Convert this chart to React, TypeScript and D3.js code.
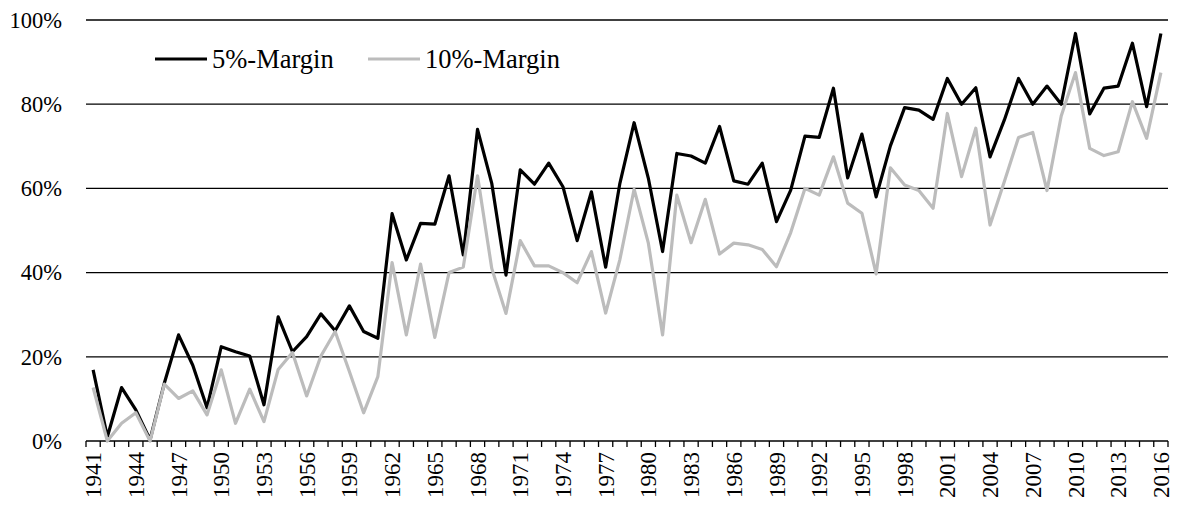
import React, { useRef, useEffect } from "react";
import { select, scaleBand, scaleLinear, line, range } from "d3";

// years on the x axis
const years = range(1941, 2017);

// share of elections decided within a 5% margin
const margin5 = [
  16.9, 1, 12.7, 7.4, 0.3, 13.7, 25.2, 18, 7.9, 22.4,
  21.2, 20.2, 8.6, 29.5, 21.2, 24.8, 30.2, 26.2, 32.1, 26,
  24.4, 54, 43, 51.7, 51.5, 63, 44.2, 74, 61.2, 39.4,
  64.4, 61, 66, 60.4, 47.6, 59.2, 41.3, 61.2, 75.6, 62.4,
  45, 68.3, 67.7, 66, 74.7, 61.8, 61, 66, 52.1, 59.6,
  72.4, 72.1, 83.8, 62.5, 72.9, 58, 70.1, 79.2, 78.6, 76.4,
  86.1, 80, 83.9, 67.5, 76.2, 86.1, 80, 84.3, 80, 96.8,
  77.7, 83.8, 84.3, 94.5, 79.4, 96.8,
];

// share of elections decided within a 10% margin
const margin10 = [
  12.7, 0, 4.2, 6.7, 0, 13.5, 10.1, 11.9, 6.2, 16.9,
  4.2, 12.3, 4.6, 17, 21, 10.7, 20.2, 26, 16.5, 6.7,
  15.3, 42.4, 25.2, 42, 24.6, 40, 41.3, 63, 41, 30.3,
  47.6, 41.6, 41.6, 40, 37.6, 45, 30.4, 43.1, 59.8, 47,
  25.2, 58.4, 47.1, 57.4, 44.4, 47, 46.6, 45.5, 41.4, 49.5,
  60, 58.4, 67.5, 56.5, 54.1, 39.7, 64.9, 60.8, 59.5, 55.3,
  77.8, 62.8, 74.3, 51.3, 61.6, 72.1, 73.3, 59.5, 77.2, 87.5,
  69.5, 67.8, 68.7, 80.6, 71.9, 87.5,
];

const yTicks = [0, 20, 40, 60, 80, 100];
const seriesNames = ["5%-Margin", "10%-Margin"];
const seriesColors = ["#000000", "#bcbcbc"];

const W = 1177;
const H = 505;
const FONT = "Liberation Serif, Times New Roman, DejaVu Serif, serif";

function App() {
  const svgRef = useRef(null);

  useEffect(() => {
    const svg = select(svgRef.current);
    svg.selectAll("*").remove();

    const left = 86;
    const right = 1168;
    const top = 20;
    const bottom = 441;

    const xScale = scaleBand().domain(years).range([left, right]);
    const yScale = scaleLinear().domain([0, 100]).range([bottom, top]);
    const cx = (y) => xScale(y) + xScale.bandwidth() / 2;

    // horizontal grid lines
    svg
      .selectAll(".grid")
      .data(yTicks)
      .join("line")
      .attr("class", "grid")
      .attr("x1", left)
      .attr("x2", right)
      .attr("y1", (d) => yScale(d))
      .attr("y2", (d) => yScale(d))
      .attr("stroke", "#000")
      .attr("stroke-width", 1.3);

    svg
      .selectAll(".ylabel")
      .data(yTicks)
      .join("text")
      .attr("class", "ylabel")
      .attr("x", 62)
      .attr("y", (d) => yScale(d))
      .attr("dy", "0.35em")
      .attr("text-anchor", "end")
      .attr("font-family", FONT)
      .attr("font-size", 22.5)
      .text((d) => `${d}%`);

    // tick marks between categories
    const tickXs = years.map((y) => xScale(y)).concat([right]);
    svg
      .selectAll(".xtick")
      .data(tickXs)
      .join("line")
      .attr("class", "xtick")
      .attr("x1", (d) => d)
      .attr("x2", (d) => d)
      .attr("y1", bottom)
      .attr("y2", bottom + 6)
      .attr("stroke", "#000")
      .attr("stroke-width", 1.3);

    svg
      .selectAll(".xlabel")
      .data(years.filter((y) => (y - 1941) % 3 === 0))
      .join("text")
      .attr("class", "xlabel")
      .attr("transform", (d) => `translate(${cx(d)},${bottom + 11}) rotate(-90)`)
      .attr("dy", "0.35em")
      .attr("text-anchor", "end")
      .attr("font-family", FONT)
      .attr("font-size", 23)
      .text((d) => d);

    const lineGen = line()
      .x((d, i) => cx(years[i]))
      .y((d) => yScale(d));

    [margin5, margin10].forEach((values, i) => {
      svg
        .append("path")
        .attr("d", lineGen(values))
        .attr("fill", "none")
        .attr("stroke", seriesColors[i])
        .attr("stroke-width", 3.2)
        .attr("stroke-linejoin", "round");
    });

    // legend
    const legendX = [155, 368];
    seriesNames.forEach((name, i) => {
      svg
        .append("line")
        .attr("x1", legendX[i])
        .attr("x2", legendX[i] + 52)
        .attr("y1", 59)
        .attr("y2", 59)
        .attr("stroke", seriesColors[i])
        .attr("stroke-width", 3.2);
      svg
        .append("text")
        .attr("x", legendX[i] + 57)
        .attr("y", 59)
        .attr("dy", "0.35em")
        .attr("font-family", FONT)
        .attr("font-size", 26.5)
        .text(name);
    });
  }, []);

  return (
    <div style={{ position: "absolute", left: 0, top: 0 }}>
      <svg ref={svgRef} width={W} height={H} style={{ display: "block", background: "#fff" }}></svg>
    </div>
  );
}

export default App;
